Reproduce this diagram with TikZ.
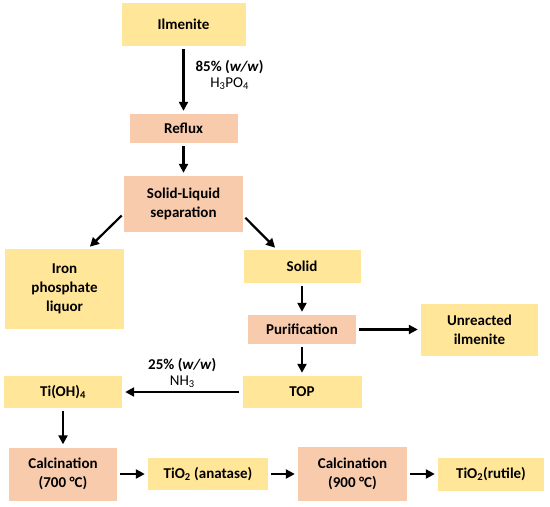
\documentclass[tikz,border=0pt]{standalone}
\usepackage{fontspec}
\setmainfont{Carlito}
\usetikzlibrary{arrows.meta}
\definecolor{boxyellow}{HTML}{FFE699}
\definecolor{boxsalmon}{HTML}{F8CBAD}

\begin{document}
\begin{tikzpicture}[x=1pt, y=-1pt,
    product/.style={rectangle, fill=boxyellow, inner sep=0pt, align=center, font=\fontsize{15}{19}\selectfont\bfseries},
    process/.style={product, fill=boxsalmon},
    flow/.style={line width=2.2pt, -{Triangle[length=9pt,width=9pt]}, shorten <=3pt, shorten >=3pt},
    note/.style={align=center, inner sep=0pt, font=\fontsize{15}{16}\selectfont}]
        \useasboundingbox (0,0) rectangle (550,507);

        % Draw nodes
        \node[product, minimum width=124pt, minimum height=43pt] (ilm) at (183.5,24.5) {Ilmenite};
        \node[process, minimum width=108pt, minimum height=29pt] (reflux) at (183.5,128.5) {Reflux};
        \node[process, minimum width=119pt, minimum height=56pt] (slsep) at (183.5,204) {Solid-Liquid\\separation};
        \node[product, minimum width=119pt, minimum height=80pt] (iron) at (64.5,289) {Iron\\phosphate\\liquor};
        \node[product, minimum width=117pt, minimum height=33pt] (solid) at (302,266.5) {Solid};
        \node[process, minimum width=108pt, minimum height=29pt] (purif) at (302,329.5) {Purification};
        \node[product, minimum width=117pt, minimum height=52pt] (unreac) at (479.5,329.5) {Unreacted\\ilmenite};
        \node[product, minimum width=119pt, minimum height=32pt] (top) at (302,392) {TOP};
        \node[product, minimum width=118pt, minimum height=32pt] (tioh) at (63,392) {Ti(OH)\textsubscript{4}};
        \node[process, minimum width=108pt, minimum height=53pt] (calcA) at (63,474) {Calcination\\(700 °C)};
        \node[product, minimum width=120pt, minimum height=32pt] (anatase) at (208,474) {TiO\textsubscript{2} (anatase)};
        \node[process, minimum width=109pt, minimum height=54pt] (calcB) at (352.5,474) {Calcination\\(900 °C)};
        \node[product, minimum width=106pt, minimum height=33pt] (rutile) at (491,474) {TiO\textsubscript{2}(rutile)};

        % Draw connections
        \draw[flow] (ilm) -- (reflux) node[pos=0.43, right=11pt, note] {\textbf{85\% (\textit{w/w})}\\H\textsubscript{3}PO\textsubscript{4}};
        \draw[flow] (reflux) -- (slsep);
        \draw[flow] (slsep.189) -- (iron.60);
        \draw[flow] (slsep.349) -- (solid.146);
        \draw[flow] (solid) -- (purif);
        \draw[flow] (purif) -- (unreac);
        \draw[flow] (purif) -- (top);
        \draw[flow] (top) -- (tioh) node[midway, above=3pt, note] {\textbf{25\% (\textit{w/w})}\\NH\textsubscript{3}};
        \draw[flow] (tioh) -- (calcA);
        \draw[flow] (calcA) -- (anatase);
        \draw[flow] (anatase) -- (calcB);
        \draw[flow] (calcB) -- (rutile);
    \end{tikzpicture}
\end{document}
